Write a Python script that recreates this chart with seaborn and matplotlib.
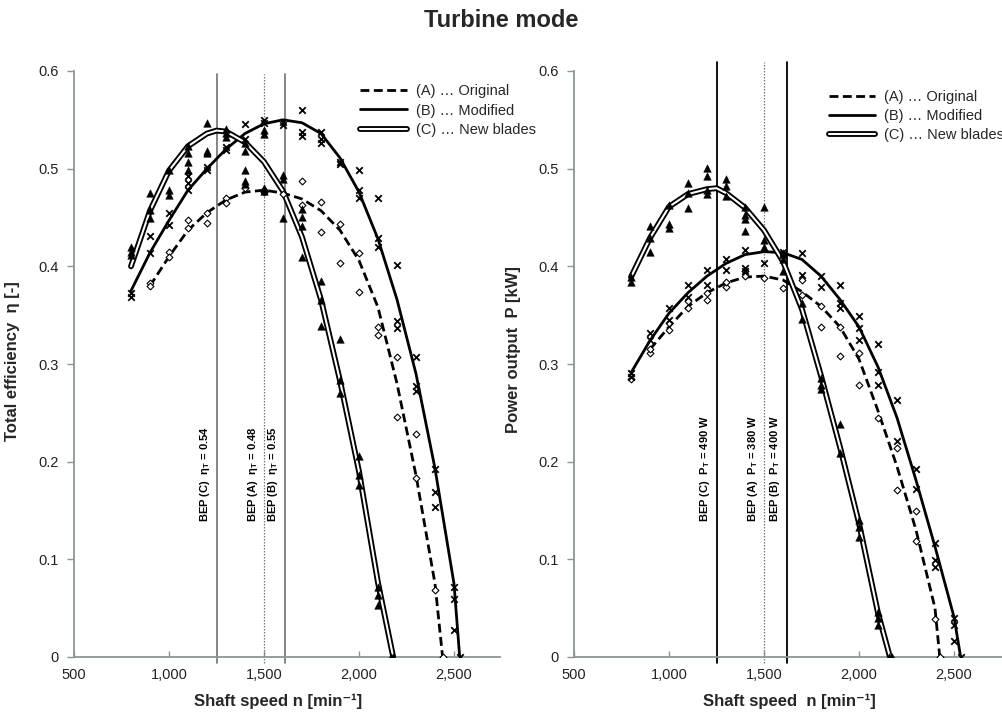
import numpy as np
import pandas as pd
import matplotlib
matplotlib.use("Agg")
import matplotlib.pyplot as plt
import matplotlib.patheffects as pe
from matplotlib.lines import Line2D
from matplotlib.ticker import FuncFormatter
import seaborn as sns

# ---------------- data ----------------
# Trend curves: (shaft speed, value)
eff_curve_A = [(900, .380), (1000, .410), (1100, .437), (1200, .455), (1300, .468), (1400, .476),
               (1500, .478), (1600, .475), (1700, .469), (1800, .457), (1900, .437), (2000, .406),
               (2100, .358), (2200, .280), (2300, .186), (2400, .075), (2440, 0.0)]
eff_curve_B = [(800, .375), (900, .414), (1000, .447), (1100, .478), (1200, .500), (1300, .520),
               (1400, .536), (1500, .546), (1600, .550), (1700, .547), (1800, .536), (1900, .511),
               (2000, .476), (2100, .428), (2200, .366), (2300, .290), (2400, .193), (2500, .075),
               (2530, 0.0)]
eff_curve_C = [(800, .400), (900, .457), (1000, .498), (1100, .523), (1200, .536), (1250, .539),
               (1300, .538), (1400, .527), (1500, .507), (1600, .477), (1700, .430), (1800, .366),
               (1900, .283), (2000, .190), (2100, .076), (2180, 0.0)]

pow_curve_A = [(900, .315), (1000, .338), (1100, .359), (1200, .373), (1300, .383), (1400, .389),
               (1500, .390), (1600, .386), (1700, .374), (1800, .359), (1900, .338), (2000, .305),
               (2100, .252), (2200, .195), (2300, .130), (2400, .050), (2425, 0.0)]
pow_curve_B = [(800, .291), (900, .324), (1000, .352), (1100, .373), (1200, .390), (1300, .403),
               (1400, .412), (1500, .415), (1600, .414), (1700, .407), (1800, .390), (1900, .366),
               (2000, .338), (2100, .297), (2200, .245), (2300, .181), (2400, .113), (2500, .041),
               (2535, 0.0)]
pow_curve_C = [(800, .389), (900, .429), (1000, .461), (1100, .474), (1200, .479), (1250, .480),
               (1300, .475), (1400, .460), (1500, .437), (1600, .405), (1700, .356), (1800, .288),
               (1900, .215), (2000, .137), (2100, .045), (2163, 0.0)]

# Measured points: (shaft speed, value)
eff_pts_A = [(900, .383), (900, .380), (1000, .415), (1000, .410), (1100, .447), (1100, .439),
             (1200, .455), (1200, .444), (1300, .470), (1300, .465), (1400, .480), (1500, .478),
             (1500, .476), (1600, .474), (1700, .487), (1700, .463), (1800, .466), (1800, .435),
             (1900, .443), (1900, .403), (2000, .414), (2000, .374), (2100, .338), (2100, .330),
             (2200, .307), (2200, .2455), (2300, .2285), (2300, .183), (2400, .069), (2440, 0.0)]
eff_pts_B = [(800, .373), (800, .369), (900, .431), (900, .414), (1000, .4545), (1000, .4426),
             (1100, .492), (1100, .485), (1100, .478), (1200, .499), (1200, .502), (1300, .522),
             (1300, .519), (1400, .546), (1400, .530), (1500, .550), (1500, .547), (1600, .548),
             (1600, .545), (1700, .560), (1700, .538), (1700, .533), (1800, .538), (1800, .530),
             (1800, .526), (1900, .507), (1900, .505), (2000, .499), (2000, .478), (2000, .470),
             (2100, .470), (2100, .429), (2100, .420), (2200, .401), (2200, .344), (2200, .337),
             (2300, .307), (2300, .277), (2300, .272), (2400, .192), (2400, .169), (2400, .154),
             (2500, .072), (2500, .059), (2500, .028), (2530, 0.0)]
eff_pts_C = [(800, .420), (800, .415), (800, .412), (900, .475), (900, .458), (900, .449),
             (1000, .499), (1000, .478), (1000, .473), (1100, .523), (1100, .516), (1100, .507),
             (1100, .499), (1200, .547), (1200, .518), (1200, .516), (1300, .541), (1300, .537),
             (1300, .532), (1400, .526), (1400, .518), (1400, .499), (1400, .487), (1400, .484),
             (1500, .540), (1500, .536), (1500, .480), (1500, .477), (1600, .494), (1600, .489),
             (1600, .449), (1700, .459), (1700, .450), (1700, .441), (1700, .410), (1800, .385),
             (1800, .366), (1800, .339), (1900, .326), (1900, .284), (1900, .270), (2000, .206),
             (2000, .186), (2000, .176), (2100, .072), (2100, .0635), (2100, .053), (2170, 0.0),
             (2180, 0.0)]

pow_pts_A = [(800, .285), (900, .311), (900, .315), (1000, .335), (1000, .342), (1100, .357),
             (1100, .364), (1200, .366), (1200, .373), (1300, .379), (1300, .3835), (1400, .395),
             (1400, .390), (1500, .388), (1600, .378), (1700, .386), (1700, .371), (1800, .359),
             (1800, .338), (1900, .338), (1900, .308), (2000, .311), (2000, .279), (2100, .2445),
             (2200, .214), (2200, .171), (2300, .149), (2300, .119), (2400, .0386), (2425, 0.0)]
pow_pts_B = [(800, .291), (800, .287), (900, .332), (900, .325), (1000, .357), (1000, .345),
             (1100, .381), (1100, .369), (1200, .396), (1200, .381), (1300, .408), (1300, .396),
             (1400, .417), (1400, .398), (1400, .395), (1500, .403), (1600, .415), (1600, .412),
             (1700, .414), (1700, .391), (1800, .390), (1800, .379), (1900, .381), (1900, .362),
             (1900, .357), (2000, .349), (2000, .337), (2000, .325), (2100, .320), (2100, .292),
             (2100, .279), (2200, .263), (2200, .221), (2300, .193), (2300, .172), (2400, .1165),
             (2400, .099), (2400, .0925), (2500, .040), (2500, .033), (2500, .016), (2535, 0.0)]
pow_pts_C = [(800, .389), (800, .3835), (900, .441), (900, .429), (900, .415), (1000, .463),
             (1000, .443), (1000, .439), (1100, .485), (1100, .475), (1100, .460), (1200, .501),
             (1200, .493), (1200, .478), (1200, .474), (1300, .489), (1300, .482), (1300, .472),
             (1400, .461), (1400, .453), (1400, .448), (1400, .436), (1500, .461), (1500, .427),
             (1500, .420), (1600, .414), (1600, .408), (1600, .395), (1700, .362), (1700, .346),
             (1800, .2855), (1800, .279), (1800, .274), (1900, .239), (1900, .209), (2000, .140),
             (2000, .1335), (2000, .123), (2100, .046), (2100, .040), (2100, .033), (2160, 0.0),
             (2175, 0.0)]

legend_labels = ["(A) \u2026 Original", "(B) \u2026 Modified", "(C) \u2026 New blades"]
x_ticks = [500, 1000, 1500, 2000, 2500]
y_ticks = [0, 0.1, 0.2, 0.3, 0.4, 0.5, 0.6]

# BEP markers: (speed, label, line style)
eff_bep = [(1250, r"BEP (C)  $\eta_\mathregular{T}$ = 0.54", "solid"),
           (1500, r"BEP (A)  $\eta_\mathregular{T}$ = 0.48", "dotted"),
           (1610, r"BEP (B)  $\eta_\mathregular{T}$ = 0.55", "solid")]
pow_bep = [(1252, r"BEP (C)  P$_\mathregular{T}$ = 490 W", "solid"),
           (1500, r"BEP (A)  P$_\mathregular{T}$ = 380 W", "dotted"),
           (1620, r"BEP (B)  P$_\mathregular{T}$ = 400 W", "solid")]

# ---------------- style ----------------
sns.set_style("ticks")
plt.rcParams["font.family"] = ["Liberation Sans", "DejaVu Sans"]
plt.rcParams["mathtext.fontset"] = "custom"
plt.rcParams["mathtext.rm"] = "Liberation Sans:bold"
plt.rcParams["mathtext.it"] = "Liberation Sans:bold"
plt.rcParams["mathtext.bf"] = "Liberation Sans:bold"

double_fx = [pe.Stroke(linewidth=4.2, foreground="black"), pe.Normal()]
AXC = "#8a9696"


def to_df(pairs):
    return pd.DataFrame(pairs, columns=["n", "v"])


def draw_panel(ax, curves, pts, beps, bep_color, bep_top, ylabel, xlabel, leg_anchor):
    cA, cB, cC = curves
    pA, pB, pC = pts
    for sp, lab, ls in beps:
        if ls == "dotted":
            ax.axvline(sp, ymin=-0.01, ymax=bep_top, color="#777777", lw=0.9, ls=(0, (1.2, 1.2)),
                       clip_on=False, zorder=1)
        else:
            ax.axvline(sp, ymin=-0.01, ymax=bep_top, color=bep_color, lw=1.3, clip_on=False, zorder=1)
    sns.lineplot(data=to_df(cA), x="n", y="v", ax=ax, color="black", lw=2.0,
                 linestyle=(0, (3.2, 1.6)), sort=False, zorder=3)
    sns.lineplot(data=to_df(cB), x="n", y="v", ax=ax, color="black", lw=2.0, sort=False, zorder=3)
    sns.lineplot(data=to_df(cC), x="n", y="v", ax=ax, color="white", lw=1.5, sort=False,
                 path_effects=double_fx, zorder=3)
    sns.scatterplot(data=to_df(pA), x="n", y="v", ax=ax, marker="D", s=12, facecolor="white",
                    edgecolor="black", linewidth=0.8, zorder=4)
    sns.scatterplot(data=to_df(pB), x="n", y="v", ax=ax, marker="x", s=22, color="black",
                    linewidth=1.3, zorder=4)
    sns.scatterplot(data=to_df(pC), x="n", y="v", ax=ax, marker="^", s=30, color="black",
                    edgecolor="black", linewidth=0.3, zorder=4)

    for sp, lab, ls in beps:
        ax.text(sp - 60, 0.138, lab, rotation=90, ha="center", va="bottom", fontsize=8,
                fontweight="bold", color="black")

    ax.set_ylim(0, 0.6)
    ax.set_yticks(y_ticks)
    ax.set_yticklabels(["0", "0.1", "0.2", "0.3", "0.4", "0.5", "0.6"])
    ax.set_xticks(x_ticks)
    ax.xaxis.set_major_formatter(FuncFormatter(lambda v, p: f"{int(v):,}"))
    ax.tick_params(axis="x", direction="in", length=4, width=1, color=AXC, labelsize=10.5,
                   pad=8, labelcolor="#222222")
    ax.tick_params(axis="y", direction="out", length=5, width=1, color=AXC, labelsize=10.5,
                   pad=6, labelcolor="#222222")
    sns.despine(ax=ax)
    for s in ("left", "bottom"):
        ax.spines[s].set_color(AXC)
        ax.spines[s].set_linewidth(1.3)
    ax.set_ylabel(ylabel, fontsize=12, fontweight="bold")
    ax.set_xlabel(xlabel, fontsize=12, fontweight="bold")

    handles = [
        Line2D([], [], color="black", lw=2.0, linestyle=(0, (3.2, 1.6))),
        Line2D([], [], color="black", lw=2.0),
        Line2D([], [], color="white", lw=1.5, path_effects=double_fx),
    ]
    ax.legend(handles, legend_labels, loc="upper left", bbox_to_anchor=leg_anchor, frameon=False,
              fontsize=10.5, handlelength=3.2, handletextpad=0.6, labelspacing=0.35,
              borderaxespad=0, borderpad=0)


fig = plt.figure(figsize=(10.03, 7.15), dpi=100)
ax1 = fig.add_axes([74 / 1003, 58 / 715, 426 / 1003, 586 / 715])
ax2 = fig.add_axes([574 / 1003, 58 / 715, 429 / 1003, 586 / 715])
ax1.set_xlim(500, 500 + 426 / 0.19)
ax2.set_xlim(500, 500 + 429 / 0.19)

draw_panel(ax1, (eff_curve_A, eff_curve_B, eff_curve_C), (eff_pts_A, eff_pts_B, eff_pts_C), eff_bep,
           "#7c7c7c", 0.995, "Total efficiency  \u03b7 [-]", "Shaft speed n [min\u207b\u00b9]",
           (0.672, 0.977))
draw_panel(ax2, (pow_curve_A, pow_curve_B, pow_curve_C), (pow_pts_A, pow_pts_B, pow_pts_C), pow_bep,
           "black", 1.015, "Power output  P [kW]", "Shaft speed  n [min\u207b\u00b9]",
           (0.594, 0.968))

ax1.yaxis.set_label_coords(-0.127, 0.505)
ax2.yaxis.set_label_coords(-0.124, 0.525)
ax1.xaxis.set_label_coords(0.479, -0.062)
ax2.xaxis.set_label_coords(0.501, -0.062)

fig.text(0.5, 0.972, "Turbine mode", ha="center", va="center", fontsize=17, fontweight="bold")

fig.savefig("out.png", dpi=100)
